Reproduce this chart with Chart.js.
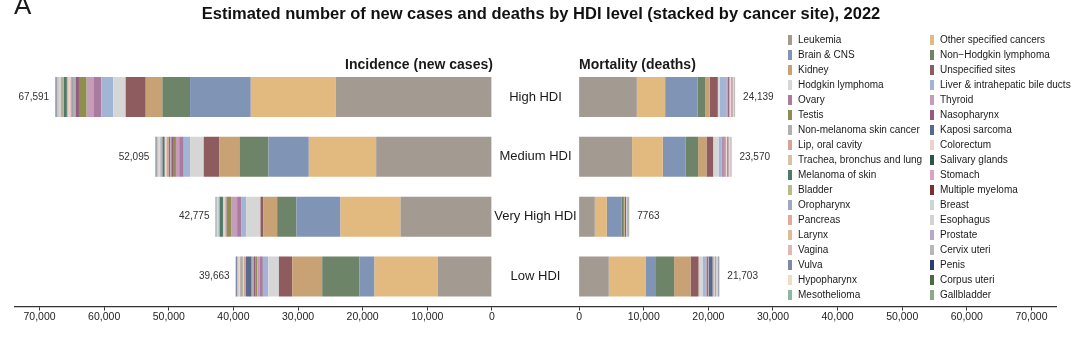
<!DOCTYPE html>
<html>
<head>
<meta charset="utf-8">
<script src="https://cdn.jsdelivr.net/npm/chart.js@4.4.1/dist/chart.umd.min.js"></script>
<style>
  body { margin: 0; background: #fff; font-family: "Liberation Sans", Arial, sans-serif; }
  #wrap { position: relative; width: 1080px; height: 337px; }
  #legend {
    position: absolute; left: 788px; top: 32px;
    display: grid; grid-template-columns: 142px 150px; grid-auto-rows: 15px;
    font-size: 10px; color: #1a1a1a;
  }
  .item { display: flex; align-items: center; white-space: nowrap; }
  .sw { width: 4px; height: 10px; margin-right: 6px; flex: none; }
</style>
</head>
<body>
<div id="wrap">
  <canvas id="chart" width="1080" height="337"></canvas>
  <div id="legend"></div>
</div>
<script>
const mainTitle = "Estimated number of new cases and deaths by HDI level (stacked by cancer site), 2022";
const panelTitles = ["Incidence (new cases)", "Mortality (deaths)"];
const categories = ["High HDI", "Medium HDI", "Very High HDI", "Low HDI"];

const incTotalLabels = ["67,591", "52,095", "42,775", "39,663"];
const mortTotalLabels = ["24,139", "23,570", "7763", "21,703"];

const tickValues = [0, 10000, 20000, 30000, 40000, 50000, 60000, 70000];

// sites in stacking / legend order
const sites = [
  "Leukemia", "Other specified cancers", "Brain & CNS", "Non\u2212Hodgkin lymphoma",
  "Kidney", "Unspecified sites", "Hodgkin lymphoma", "Liver & intrahepatic bile ducts",
  "Ovary", "Thyroid", "Testis", "Nasopharynx",
  "Non-melanoma skin cancer", "Kaposi sarcoma", "Lip, oral cavity", "Colorectum",
  "Trachea, bronchus and lung", "Salivary glands", "Melanoma of skin", "Stomach",
  "Bladder", "Multiple myeloma", "Oropharynx", "Breast",
  "Pancreas", "Esophagus", "Larynx", "Prostate",
  "Vagina", "Cervix uteri", "Vulva", "Penis",
  "Hypopharynx", "Corpus uteri", "Mesothelioma", "Gallbladder"
];
const siteColors = [
  "#a39a92", "#e2b97f", "#8094b5", "#6e8468",
  "#c8a274", "#8e5b5e", "#d6d6d6", "#a3b5d4",
  "#a97b9e", "#c69cba", "#8e8f4f", "#955a80",
  "#b0b0b0", "#58698a", "#d4a39a", "#ebd2ce",
  "#d6c3a3", "#2e5446", "#4d7a66", "#dda3c6",
  "#b8bc86", "#7a2f35", "#a0a8c3", "#c8d7cf",
  "#e2a89a", "#d3d3d3", "#ddbb94", "#b5a8c8",
  "#ddb8b4", "#b8b8b8", "#7c8aa8", "#2c3e6e",
  "#eedcc6", "#4a6a44", "#8fb5a5", "#8fa88a"
];

// incidence by site, one array per HDI level
const incHigh = [24150, 13160, 9400, 4280, 2580, 3100, 1910, 1860, 1135, 1135, 1190, 520,
  410, 80, 300, 280, 200, 120, 450, 100, 90, 100, 100, 180, 60, 70, 60, 60, 70, 120, 60, 50, 40, 70, 30, 71];
const incMedium = [17910, 10420, 6240, 4490, 3100, 2430, 2120, 980, 700, 500, 460, 250,
  200, 150, 385, 180, 120, 90, 260, 90, 70, 70, 70, 140, 50, 70, 50, 50, 60, 120, 50, 40, 30, 60, 30, 60];
const incVeryHigh = [14140, 9290, 6810, 2990, 2170, 410, 2220, 775, 620, 930, 670, 60,
  150, 20, 80, 180, 60, 50, 500, 40, 40, 30, 40, 160, 30, 15, 20, 30, 15, 80, 15, 15, 10, 60, 10, 40];
const incLow = [8360, 9800, 2320, 5780, 4640, 2060, 1650, 830, 510, 360, 310, 250,
  300, 880, 333, 150, 60, 80, 60, 60, 60, 40, 40, 120, 30, 80, 40, 40, 50, 120, 50, 80, 20, 40, 20, 40];

// mortality by site
const mortHigh = [8930, 4380, 5000, 1240, 670, 1240, 310, 1030, 150, 40, 60, 150,
  40, 30, 80, 120, 80, 20, 60, 70, 20, 50, 20, 60, 30, 30, 20, 20, 20, 70, 10, 10, 10, 20, 10, 39];
const mortMedium = [8200, 4750, 3560, 1910, 1290, 1030, 830, 520, 150, 30, 60, 160,
  60, 60, 110, 110, 70, 30, 80, 70, 25, 50, 25, 70, 30, 50, 25, 25, 25, 80, 15, 15, 15, 25, 10, 5];
const mortVeryHigh = [2430, 1860, 2320, 310, 150, 180, 60, 100, 40, 10, 20, 20,
  10, 5, 20, 40, 20, 8, 50, 15, 5, 15, 5, 15, 10, 5, 5, 5, 5, 10, 2, 2, 2, 5, 2, 2];
const mortLow = [4590, 5680, 1500, 2940, 2530, 1240, 620, 460, 150, 30, 60, 180,
  80, 600, 180, 110, 40, 50, 40, 50, 30, 30, 30, 60, 20, 70, 20, 20, 30, 90, 30, 60, 10, 20, 10, 43];

const incByLevel = [incHigh, incMedium, incVeryHigh, incLow];
const mortByLevel = [mortHigh, mortMedium, mortVeryHigh, mortLow];

// gap between the two panels (in data units) and half-width of each panel
const GAP = 13500;
const SPAN = 73800;

const FONT = '"Liberation Sans", Arial, sans-serif';
Chart.defaults.font.family = FONT;
Chart.defaults.color = "#222";

const sum = (arr) => arr.reduce((a, b) => a + b, 0);

// datasets: invisible offset pushes the mortality panel right of the gap
const datasets = [{
  label: "_offset",
  data: categories.map(() => GAP),
  backgroundColor: "rgba(0,0,0,0)",
  stack: "s"
}];
sites.forEach((name, j) => {
  datasets.push({
    label: name,
    data: incByLevel.map(lv => -lv[j]),
    backgroundColor: siteColors[j],
    stack: "s"
  });
});
sites.forEach((name, j) => {
  datasets.push({
    label: name + " (deaths)",
    data: mortByLevel.map(lv => lv[j]),
    backgroundColor: siteColors[j],
    stack: "s"
  });
});

const labelsPlugin = {
  id: "hdiLabels",
  afterDatasetsDraw(chart) {
    const { ctx, chartArea } = chart;
    const xs = chart.scales.x, ys = chart.scales.y;
    const x0L = xs.getPixelForValue(0);
    const x0R = xs.getPixelForValue(GAP);
    const xMid = xs.getPixelForValue(GAP / 2);

    ctx.save();
    ctx.fillStyle = "#1a1a1a";

    // panel tag
    ctx.font = `26px ${FONT}`;
    ctx.textAlign = "left";
    ctx.textBaseline = "alphabetic";
    ctx.fillText("A", 14, 14);

    // main title
    ctx.textBaseline = "middle";
    ctx.font = `bold 16.5px ${FONT}`;
    ctx.textAlign = "center";
    ctx.fillStyle = "#111";
    ctx.fillText(mainTitle, 541, 14);

    // panel titles
    ctx.fillStyle = "#1a1a1a";
    ctx.font = `bold 14px ${FONT}`;
    ctx.textAlign = "right";
    ctx.fillText(panelTitles[0], x0L + 1, chartArea.top - 2);
    ctx.textAlign = "left";
    ctx.fillText(panelTitles[1], x0R, chartArea.top - 2);

    categories.forEach((cat, i) => {
      const y = ys.getPixelForValue(i);
      ctx.font = `13px ${FONT}`;
      ctx.textAlign = "center";
      ctx.fillStyle = "#1a1a1a";
      ctx.fillText(cat, xMid, y);

      ctx.font = `10px ${FONT}`;
      ctx.fillStyle = "#333";
      ctx.textAlign = "right";
      ctx.fillText(incTotalLabels[i], xs.getPixelForValue(-sum(incByLevel[i])) - 6, y);
      ctx.textAlign = "left";
      ctx.fillText(mortTotalLabels[i], xs.getPixelForValue(GAP + sum(mortByLevel[i])) + 8, y);
    });
    ctx.restore();
  }
};

new Chart(document.getElementById("chart"), {
  type: "bar",
  data: { labels: categories, datasets },
  options: {
    indexAxis: "y",
    responsive: false,
    animation: false,
    events: [],
    layout: { padding: { left: 15, right: 24, top: 67, bottom: 14 } },
    datasets: { bar: { barPercentage: 0.667, categoryPercentage: 1, borderWidth: 0 } },
    plugins: {
      legend: { display: false },
      tooltip: { enabled: false },
      title: { display: false }
    },
    scales: {
      y: { type: "category", stacked: true, display: false },
      x: {
        type: "linear",
        stacked: true,
        min: -SPAN,
        max: GAP + SPAN,
        afterBuildTicks: (scale) => {
          const left = tickValues.slice().reverse().map(v => ({ value: -v }));
          const right = tickValues.map(v => ({ value: GAP + v }));
          scale.ticks = left.concat(right);
        },
        ticks: {
          autoSkip: false,
          maxRotation: 0,
          padding: 1,
          color: "#222",
          font: { size: 10.5, lineHeight: 1 },
          callback: (v) => {
            const n = v <= 0 ? -v : v - GAP;
            return n.toLocaleString("en-US");
          }
        },
        grid: { drawOnChartArea: false, drawTicks: true, tickLength: 4, color: "#333", lineWidth: 1 },
        border: { display: true, color: "#333", width: 1.3 }
      }
    }
  },
  plugins: [labelsPlugin]
});

// legend (row-wise, two columns)
const legendEl = document.getElementById("legend");
sites.forEach((name, j) => {
  const item = document.createElement("div");
  item.className = "item";
  item.innerHTML = `<span class="sw" style="background:${siteColors[j]}"></span><span></span>`;
  item.lastChild.textContent = name;
  legendEl.appendChild(item);
});
</script>
</body>
</html>
